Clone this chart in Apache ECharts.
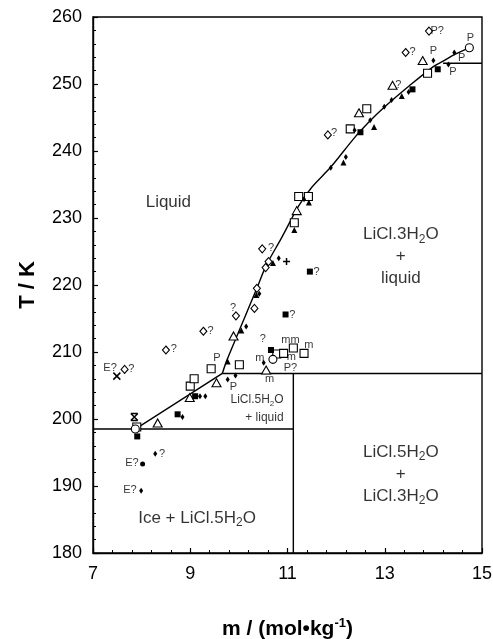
<!DOCTYPE html>
<html>
<head>
<meta charset="utf-8">
<script src="https://cdn.jsdelivr.net/npm/echarts@6/dist/echarts.min.js"></script>
<style>html,body{margin:0;padding:0;background:#fff}#c{width:493px;height:639px}</style>
</head>
<body>
<div id="c"></div>
<script>
// ---------- data ----------
const xTicks = [7, 9, 11, 13, 15];
const yTicks = [180, 190, 200, 210, 220, 230, 240, 250, 260];

// phase boundaries (m, T)
const liquidusPenta = [[7.87, 198.5], [9.66, 206.8]];
const liquidusTri = [[9.66, 206.8], [9.76, 208.9], [10.37, 219.5], [10.56, 222.9], [10.86, 226.8],
  [11.23, 231.8], [11.5, 234.6], [11.89, 237.6], [12.38, 242.0], [12.7, 244.5], [13.0, 246.6],
  [13.5, 249.7], [14.0, 252.6], [14.2, 253.4], [14.43, 254.4], [14.74, 255.4]];
const eutecticLine = [[7, 198.5], [11.12, 198.5]];
const verticalLine = [[11.12, 180], [11.12, 206.8]];
const peritecticLine = [[9.66, 206.8], [15, 206.8]];
const upperLine = [[14.2, 253.1], [15, 253.1]];

// measured points by marker
const openDiamond = [[7.65, 207.4], [8.50, 210.3], [9.27, 213.1], [9.94, 215.4], [10.32, 216.5],
  [10.37, 219.5], [10.48, 225.4], [10.55, 222.6], [10.61, 223.5], [11.83, 242.4], [13.43, 254.7], [13.91, 257.9]];
const smallDiamond = [[7.99, 189.3], [8.28, 194.8], [8.84, 200.3], [9.2, 203.4], [9.31, 203.4],
  [9.77, 205.9], [9.93, 206.5], [10.15, 213.8], [10.42, 218.7], [10.51, 208.4], [10.82, 224.0],
  [11.34, 232.8], [11.89, 237.5], [12.2, 239.1], [12.38, 243.1], [12.7, 244.6], [12.99, 246.6],
  [13.14, 247.6], [13.49, 248.8], [14.0, 253.5], [14.31, 252.9], [14.43, 254.7]];
const filledSquare = [[7.91, 197.4], [8.74, 200.7], [9.1, 203.4], [10.66, 210.3], [10.96, 215.6],
  [11.46, 222.0], [12.5, 242.8], [13.57, 249.2], [14.09, 252.2]];
const openSquare = [[7.9, 198.8], [9.0, 204.9], [9.08, 206.0], [9.43, 207.5], [10.01, 208.1],
  [10.78, 209.7], [10.92, 209.8], [11.12, 210.6], [11.34, 209.8], [11.14, 229.3], [11.23, 233.2],
  [11.43, 233.2], [12.29, 243.3], [12.63, 246.3], [13.88, 251.6]];
const openTriangle = [[8.33, 199.4], [8.99, 203.2], [9.54, 205.4], [9.89, 212.4], [10.56, 207.3],
  [11.19, 231.1], [12.47, 245.7], [13.16, 249.8], [13.78, 253.5]];
const filledTriangle = [[9.77, 208.6], [10.05, 213.2], [10.36, 218.5], [10.7, 223.3], [11.14, 228.2],
  [11.44, 232.3], [12.15, 238.3], [12.78, 243.6], [13.35, 248.2]];
const openCircle = [[7.87, 198.5], [10.7, 208.9], [14.74, 255.4]];
const filledCircle = [[8.02, 193.3]];
const crossX = [[7.49, 206.4]];
const asterisk = [[7.85, 200.3]];
const plusMark = [[10.98, 223.5]];

// point annotations (m, T, text)
const notes = [[7.35, 207.6, 'E?'], [7.79, 207.4, '?'], [8.66, 210.4, '?'], [9.42, 213.1, '?'],
  [9.88, 216.6, '?'], [10.66, 225.5, '?'], [11.6, 222.0, '?'], [11.10, 215.6, '?'], [10.49, 211.9, '?'],
  [10.43, 209.1, 'm'], [11.06, 211.8, 'mm'], [11.44, 211.1, 'm'], [11.08, 209.3, 'm'], [11.06, 207.6, 'P?'],
  [10.63, 206.0, 'm'], [9.55, 209.1, 'P'], [9.89, 204.8, 'P'], [7.80, 193.5, 'E?'], [7.76, 189.4, 'E?'],
  [8.42, 194.8, '?'], [11.96, 242.7, '?'], [13.28, 249.9, '?'], [13.57, 254.8, '?'], [14.0, 254.9, 'P'],
  [14.08, 257.9, 'P?'], [14.58, 253.9, 'P'], [14.4, 251.8, 'P'], [14.76, 256.9, 'P']];

// region labels (m, T, text)
const regionLabels = [[8.55, 232.4, 'Liquid'], [13.33, 224.3, 'LiCl.3H2O\n+\nliquid'],
  [13.33, 191.8, 'LiCl.5H2O\n+\nLiCl.3H2O'], [9.14, 185.2, 'Ice + LiCl.5H2O']];
const smallRegionLabel = [[10.92, 201.6, 'LiCl.5H2O\n+ liquid']];

// ---------- chart ----------
const FONT = '"Liberation Sans", Arial, sans-serif';
const chart = echarts.init(document.getElementById('c'), null, {renderer: 'canvas'});
const toRich = s => s.replace(/H2O/g, 'H{s|2}O');

function lineSeries(data, smooth) {
  return {type: 'line', data, smooth: smooth || false, symbol: 'none', silent: true,
    lineStyle: {color: '#000', width: 1.4}, z: 2};
}
function marker(data, symbol, size, open, z) {
  return {type: 'scatter', data, symbol, symbolSize: size, silent: true, z: z || 3,
    itemStyle: open ? {color: '#fff', borderColor: '#000', borderWidth: 1.1, opacity: 1}
                    : {color: '#000', borderColor: '#000', borderWidth: 0, opacity: 1}};
}
function strokeMarker(data, path, size) {
  return {type: 'scatter', data, symbol: path, symbolSize: size, silent: true, z: 3,
    itemStyle: {color: 'none', borderColor: '#000', borderWidth: 1.5, opacity: 1}};
}
function textSeries(data, fontSize, lineHeight, align) {
  return {type: 'scatter', data, symbolSize: 0, silent: true, z: 4,
    label: {show: true, position: 'inside', color: '#000', fontFamily: FONT, fontSize,
      lineHeight, align: align || 'center',
      formatter: p => toRich(p.value[2]),
      rich: {s: {fontSize: Math.round(fontSize * 0.7), fontFamily: FONT, color: '#000',
        verticalAlign: 'bottom', lineHeight: lineHeight, padding: [0, 0, 0, 0]}}}};
}

const option = {
  animation: false,
  backgroundColor: '#fff',
  grid: {left: 93, right: 11, top: 17, bottom: 86, show: true, borderColor: '#000', borderWidth: 1.4,
    containLabel: false, outerBoundsMode: 'none'},
  xAxis: {
    type: 'value', min: xTicks[0], max: xTicks[xTicks.length - 1], interval: 2,
    name: 'm / (mol\u2022kg{sup|-1})', nameLocation: 'middle', nameGap: 64,
    nameTextStyle: {fontFamily: FONT, fontSize: 21, fontWeight: 'bold', color: '#000',
      rich: {sup: {fontSize: 13, fontWeight: 'bold', fontFamily: FONT, verticalAlign: 'top', lineHeight: 24, color: '#000'}}},
    axisLine: {lineStyle: {color: '#000', width: 1.4}},
    axisTick: {inside: true, length: 5, lineStyle: {color: '#000', width: 1.2}},
    minorTick: {show: true, splitNumber: 5, length: 3, lineStyle: {color: '#000', width: 1}},
    splitLine: {show: false},
    axisLabel: {fontFamily: FONT, fontSize: 18, color: '#000', margin: 12}
  },
  yAxis: {
    type: 'value', min: yTicks[0], max: yTicks[yTicks.length - 1], interval: 10,
    name: 'T / K', nameLocation: 'middle', nameGap: 54, nameRotate: 90,
    nameTextStyle: {fontFamily: FONT, fontSize: 22, fontWeight: 'bold', color: '#000'},
    axisLine: {lineStyle: {color: '#000', width: 1.4}},
    axisTick: {inside: true, length: 5, lineStyle: {color: '#000', width: 1.2}},
    minorTick: {show: true, splitNumber: 5, length: 3, lineStyle: {color: '#000', width: 1}},
    splitLine: {show: false},
    axisLabel: {fontFamily: FONT, fontSize: 18, color: '#000', margin: 11}
  },
  series: [
    lineSeries(eutecticLine), lineSeries(verticalLine), lineSeries(peritecticLine), lineSeries(upperLine),
    lineSeries(liquidusPenta), lineSeries(liquidusTri, 0.3),
    marker(openDiamond, 'diamond', [7, 8], true),
    marker(openSquare, 'rect', 8, true),
    marker(openTriangle, 'triangle', [9, 8], true),
    marker(openCircle, 'circle', 8, true),
    marker(filledSquare, 'rect', 6, false),
    marker(filledTriangle, 'triangle', [6, 6], false),
    marker(smallDiamond, 'diamond', [4, 6], false, 5),
    marker(filledCircle, 'circle', 5, false),
    strokeMarker(crossX, 'path://M0,0L10,10M10,0L0,10', 7),
    strokeMarker(asterisk, 'path://M0,0L10,10M10,0L0,10M0,0L10,0M0,10L10,10', 7),
    strokeMarker(plusMark, 'path://M5,0L5,10M0,5L10,5', 7),
    textSeries(notes, 11, 12),
    textSeries(regionLabels, 17, 22),
    textSeries(smallRegionLabel, 12, 18, 'right')
  ]
};
chart.setOption(option);
</script>
</body>
</html>
